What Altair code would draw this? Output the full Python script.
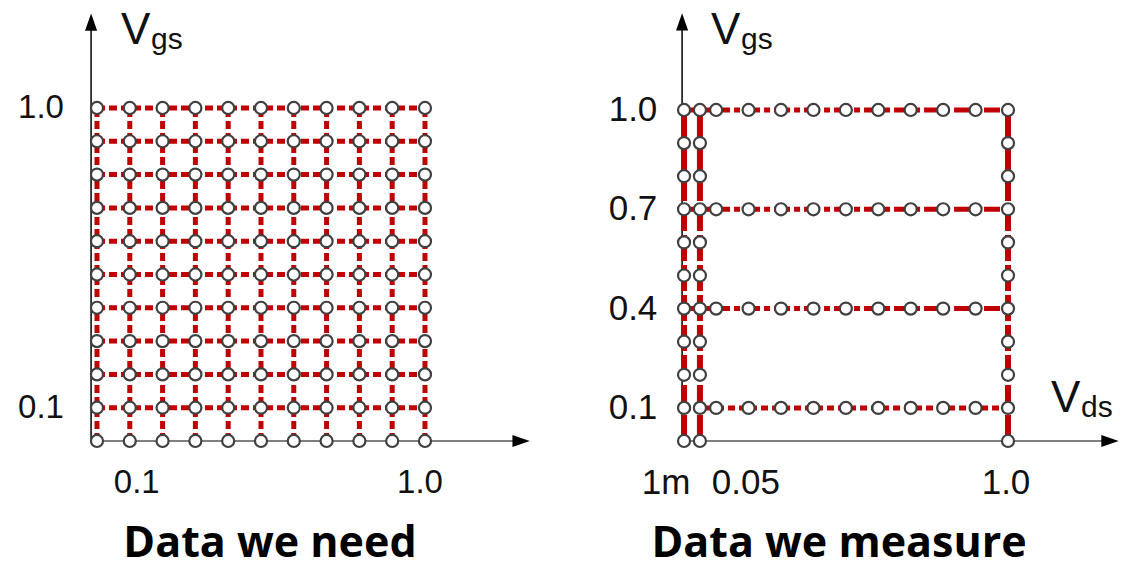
import altair as alt
import pandas as pd

# ---------------- data ----------------
# "Data we need": full Vds x Vgs grid
need_vds = [0.0, 0.1, 0.2, 0.3, 0.4, 0.5, 0.6, 0.7, 0.8, 0.9, 1.0]
need_vgs = [0.0, 0.1, 0.2, 0.3, 0.4, 0.5, 0.6, 0.7, 0.8, 0.9, 1.0]
need_vgs_sweeps = [0.1, 0.2, 0.3, 0.4, 0.5, 0.6, 0.7, 0.8, 0.9, 1.0]
need_x_ticks = [0.1, 1.0]
need_x_labels = ["0.1", "1.0"]
need_y_ticks = [0.1, 1.0]
need_y_labels = ["0.1", "1.0"]

# "Data we measure": Vgs sweeps at fixed Vds and Vds sweeps at fixed Vgs
meas_vds_sweeps = [0.001, 0.05, 1.0]
meas_vgs_sweeps = [0.1, 0.4, 0.7, 1.0]
meas_vds_steps = [0.1, 0.2, 0.3, 0.4, 0.5, 0.6, 0.7, 0.8, 0.9]
meas_vgs_steps = [0.0, 0.1, 0.2, 0.3, 0.4, 0.5, 0.6, 0.7, 0.8, 0.9, 1.0]
meas_x_ticks = [0.001, 0.05, 1.0]
meas_x_labels = ["1m", "0.05", "1.0"]
meas_y_ticks = [0.1, 0.4, 0.7, 1.0]
meas_y_labels = ["0.1", "0.4", "0.7", "1.0"]

RED = "#c00000"
CIRCLE_STROKE = "#404040"
TEXT = "#111111"
LABEL_FONT = "Liberation Sans"
TITLE_FONT = "Open Sans"

UP_ARROW = "M0,-1L0.7,1L-0.7,1Z"
RIGHT_ARROW = "M1,0L-1,0.7L-1,-0.7Z"


def panel(cfg):
    xs = alt.Scale(domain=cfg["xdom"], nice=False, zero=False)
    ys = alt.Scale(domain=cfg["ydom"], nice=False, zero=False)
    X = lambda f: alt.X(f, type="quantitative", scale=xs, axis=None)
    Y = lambda f: alt.Y(f, type="quantitative", scale=ys, axis=None)

    layers = []

    # axis lines
    xaxis = pd.DataFrame({"x": [cfg["axis_x"]], "x2": [cfg["arrow_x"]], "y": [0.0]})
    layers.append(alt.Chart(xaxis).mark_rule(color="#555555", strokeWidth=1.6).encode(
        x=X("x"), x2="x2", y=Y("y")))
    yaxis = pd.DataFrame({"x": [cfg["axis_x"]], "y": [0.0], "y2": [cfg["arrow_y"]]})
    layers.append(alt.Chart(yaxis).mark_rule(color="#111111", strokeWidth=1.6).encode(
        x=X("x"), y=Y("y"), y2="y2"))

    # red sweep lines
    for df, dash, width, orient in cfg["lines"]:
        if orient == "v":
            layers.append(alt.Chart(df).mark_rule(color=RED, strokeWidth=width, strokeDash=dash).encode(
                x=X("x"), y=Y("y"), y2="y2"))
        else:
            layers.append(alt.Chart(df).mark_rule(color=RED, strokeWidth=width, strokeDash=dash).encode(
                x=X("x"), x2="x2", y=Y("y")))

    # data points
    layers.append(alt.Chart(cfg["points"]).mark_point(
        shape="circle", filled=True, fill="white", stroke=CIRCLE_STROKE,
        strokeWidth=2.2, size=145, opacity=1).encode(x=X("vds"), y=Y("vgs")))

    # arrow heads
    ua = pd.DataFrame({"x": [cfg["axis_x"]], "y": [cfg["arrow_y"]]})
    layers.append(alt.Chart(ua).mark_point(shape=UP_ARROW, filled=True, color="#000000",
                                           size=300, opacity=1).encode(x=X("x"), y=Y("y")))
    ra = pd.DataFrame({"x": [cfg["arrow_x"]], "y": [0.0]})
    layers.append(alt.Chart(ra).mark_point(shape=RIGHT_ARROW, filled=True, color="#000000",
                                           size=300, opacity=1).encode(x=X("x"), y=Y("y")))

    # y tick labels
    ydf = pd.DataFrame({"v": cfg["yticks"], "t": cfg["ylabels"]})
    layers.append(alt.Chart(ydf).mark_text(font=LABEL_FONT, fontSize=cfg["tick_fs"], color=TEXT,
                                           align="center", baseline="middle").encode(
        x=alt.value(cfg["ylabel_px"]), y=Y("v"), text="t"))

    # x tick labels
    for v, t, dx in zip(cfg["xticks"], cfg["xlabels"], cfg["xlabel_dx"]):
        d = pd.DataFrame({"v": [v], "t": [t]})
        layers.append(alt.Chart(d).mark_text(font=LABEL_FONT, fontSize=cfg["tick_fs"], color=TEXT,
                                             align="center", baseline="middle", dx=dx).encode(
            x=X("v"), y=alt.value(483), text="t"))

    # axis name labels (V with subscript)
    for main, sub, px, py, subdx, subdy in cfg["names"]:
        d = pd.DataFrame({"m": [main], "s": [sub]})
        layers.append(alt.Chart(d).mark_text(font=LABEL_FONT, fontSize=44, color=TEXT,
                                             align="left", baseline="alphabetic").encode(
            x=alt.value(px), y=alt.value(py), text="m"))
        layers.append(alt.Chart(d).mark_text(font=LABEL_FONT, fontSize=30, color=TEXT,
                                             align="left", baseline="alphabetic").encode(
            x=alt.value(px + subdx), y=alt.value(py + subdy), text="s"))

    # caption
    cd = pd.DataFrame({"t": [cfg["title"]]})
    layers.append(alt.Chart(cd).mark_text(font=TITLE_FONT, fontSize=43, fontWeight="bold",
                                          color="#000000", align="center",
                                          baseline="alphabetic").encode(
        x=alt.value(cfg["title_px"]), y=alt.value(557), text="t"))

    return alt.layer(*layers).properties(width=cfg["width"], height=569)


# ---- left panel tables ----
need_points = pd.DataFrame([{"vds": x, "vgs": y} for y in need_vgs for x in need_vds])
need_h = pd.DataFrame({"x": [need_vds[0]] * len(need_vgs_sweeps),
                       "x2": [need_vds[-1]] * len(need_vgs_sweeps),
                       "y": need_vgs_sweeps})
need_v = pd.DataFrame({"x": need_vds, "y": [need_vgs[0]] * len(need_vds),
                       "y2": [need_vgs[-1]] * len(need_vds)})

left_cfg = dict(
    width=561,
    xdom=[-0.2957, 1.4147], ydom=[-0.3844, 1.3243],
    axis_x=-0.018, arrow_x=1.293, arrow_y=1.258,
    lines=[(need_v, [8, 4], 5, "v"), (need_h, [8, 4], 5, "h")],
    points=need_points,
    yticks=need_y_ticks, ylabels=need_y_labels, ylabel_px=41,
    xticks=need_x_ticks, xlabels=need_x_labels, xlabel_dx=[7, -5],
    tick_fs=33,
    names=[("V", "gs", 121, 44, 30, 5)],
    title="Data we need", title_px=270,
)

# ---- right panel tables ----
meas_rows = [{"vds": x, "vgs": y} for x in meas_vds_sweeps for y in meas_vgs_steps]
meas_rows += [{"vds": x, "vgs": y} for x in meas_vds_steps for y in meas_vgs_sweeps]
meas_points = pd.DataFrame(meas_rows)
meas_v = pd.DataFrame({"x": meas_vds_sweeps, "y": [meas_vgs_steps[0]] * len(meas_vds_sweeps),
                       "y2": [meas_vgs_steps[-1]] * len(meas_vds_sweeps)})
meas_h_main = pd.DataFrame({"x": [meas_vds_sweeps[0]] * 3, "x2": [meas_vds_sweeps[-1]] * 3,
                            "y": meas_vgs_sweeps[1:]})
meas_h_low = pd.DataFrame({"x": [meas_vds_sweeps[0]], "x2": [meas_vds_sweeps[-1]],
                           "y": meas_vgs_sweeps[:1]})

right_cfg = dict(
    width=562,
    xdom=[-0.3784, 1.3546], ydom=[-0.3867, 1.3323],
    axis_x=-0.005, arrow_x=1.3145, arrow_y=1.266,
    lines=[(meas_v, [26, 4], 6, "v"), (meas_h_main, [16, 4, 6, 4], 5, "h"),
           (meas_h_low, [7, 4], 5, "h")],
    points=meas_points,
    yticks=meas_y_ticks, ylabels=meas_y_labels, ylabel_px=72,
    xticks=meas_x_ticks, xlabels=meas_x_labels, xlabel_dx=[-18, 46, -2],
    tick_fs=35,
    names=[("V", "gs", 150, 44, 30, 5), ("V", "ds", 490, 412, 30, 5)],
    title="Data we measure", title_px=278,
)

chart = alt.hconcat(panel(left_cfg), panel(right_cfg), spacing=0).properties(
    padding=0, background="white"
).configure_view(stroke=None).configure_concat(spacing=0)

chart.save("out.html", embed_options={"renderer": "svg", "actions": False})
